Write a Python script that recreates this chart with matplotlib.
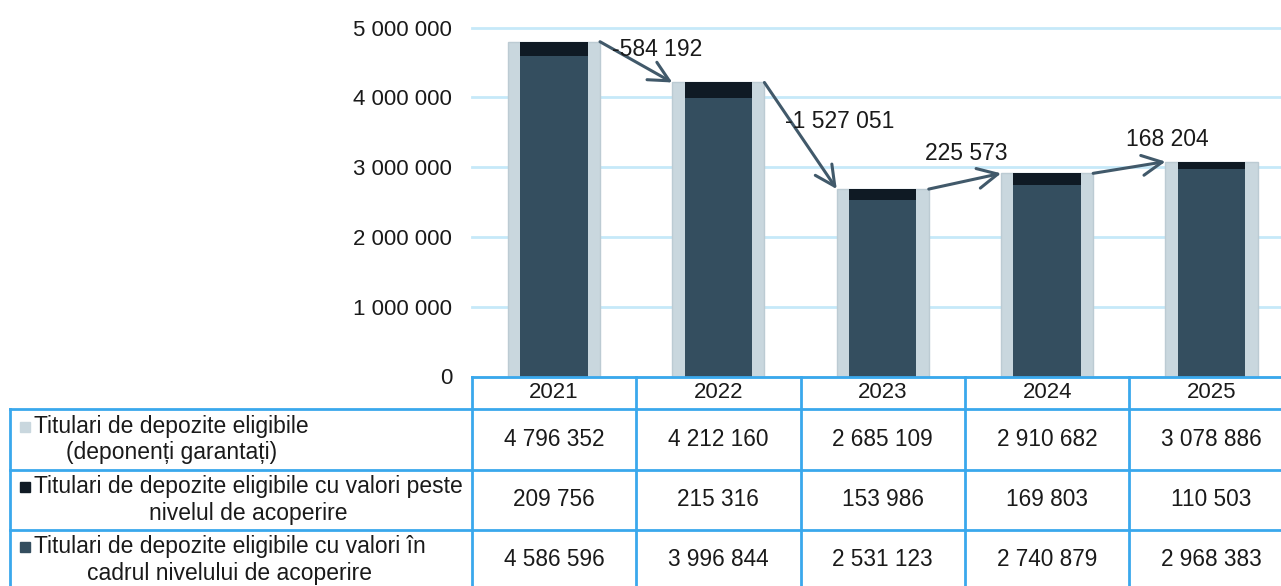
import matplotlib
matplotlib.use('Agg')
import matplotlib.pyplot as plt
from matplotlib.patches import Rectangle
from matplotlib.lines import Line2D
from matplotlib.transforms import blended_transform_factory
from matplotlib.ticker import FuncFormatter

# ---------------- data ----------------
years = ['2021', '2022', '2023', '2024', '2025']
total = [4796352, 4212160, 2685109, 2910682, 3078886]
above = [209756, 215316, 153986, 169803, 110503]
within = [4586596, 3996844, 2531123, 2740879, 2968383]
series_labels = [
    'Titulari de depozite eligibile\n(deponenți garantați)',
    'Titulari de depozite eligibile cu valori peste\nnivelul de acoperire',
    'Titulari de depozite eligibile cu valori în\ncadrul nivelului de acoperire',
]
yticks = [0, 1000000, 2000000, 3000000, 4000000, 5000000]

# ---------------- style ----------------
plt.rcParams['font.family'] = ['Liberation Sans', 'DejaVu Sans']
C_LIGHT = '#c9d7de'
C_LIGHT_EDGE = '#bccbd3'
C_SLATE = '#344e5f'
C_DARK = '#0f1a24'
C_GRID = '#c6e9f9'
C_TABLE = '#3aa8ec'
C_ARROW = '#41596a'
C_TEXT = '#1a1a1a'
FS = 16

W, H = 1281, 586
fig = plt.figure(figsize=(W / 100, H / 100), dpi=100)
fig.patch.set_facecolor('white')

def fx(px):
    return px / W

def fy(py):
    return 1 - py / H

ax_left, ax_right = 471.8, 1293.7
ax_top, ax_bottom = 27.5, 376.5
ax = fig.add_axes([fx(ax_left), fy(ax_bottom), (ax_right - ax_left) / W, (ax_bottom - ax_top) / H])
ax.set_xlim(-0.5, len(years) - 0.5)
ax.set_ylim(0, 5000000)

def fmt(v):
    return f'{int(v):,}'.replace(',', ' ')

x = list(range(len(years)))
ax.bar(x, total, width=0.56, color=C_LIGHT, edgecolor=C_LIGHT_EDGE, linewidth=1, zorder=2)
ax.bar(x, within, width=0.41, color=C_SLATE, zorder=3)
ax.bar(x, above, bottom=within, width=0.41, color=C_DARK, zorder=3)

ax.set_yticks(yticks)
ax.yaxis.set_major_formatter(FuncFormatter(lambda v, p: fmt(v)))
ax.tick_params(axis='y', length=0, pad=14, labelsize=FS, labelcolor=C_TEXT)
ax.set_xticks([])
for s in ax.spines.values():
    s.set_visible(False)
ax.set_axisbelow(True)
ax.yaxis.grid(True, color=C_GRID, lw=2, clip_on=False)

# arrows with changes
offsets = [(21, 13), (39, 14), (1, 28), (38, 28)]
for i in range(len(years) - 1):
    start = (x[i] + 0.28, total[i])
    end = (x[i + 1] - 0.28, total[i + 1])
    ax.annotate('', xy=end, xytext=start,
                arrowprops=dict(arrowstyle='->,head_length=0.9,head_width=0.45',
                                mutation_scale=16, lw=2.2, color=C_ARROW,
                                shrinkA=0, shrinkB=0), zorder=5)
    mid = ((start[0] + end[0]) / 2, (start[1] + end[1]) / 2)
    ax.annotate(fmt(total[i + 1] - total[i]), xy=mid, xytext=offsets[i],
                textcoords='offset pixels', ha='center', va='center',
                fontsize=FS + 0.5, color=C_TEXT, zorder=6)

# ---------------- data table ----------------
tr = blended_transform_factory(ax.transData, fig.transFigure)
row_lines = [409, 470, 530]
row_centers = [439.5, 500, 560]
year_row_center = 392.5

def fig_line(xs, ys, transform):
    fig.add_artist(Line2D(xs, ys, transform=transform, color=C_TABLE, lw=2))

# horizontal lines
fig_line([fx(ax_left), 1.0], [fy(ax_bottom), fy(ax_bottom)], fig.transFigure)
for r in row_lines:
    fig_line([fx(10), 1.0], [fy(r), fy(r)], fig.transFigure)
# vertical lines
fig_line([fx(10), fx(10)], [fy(409), 0], fig.transFigure)
for i in range(len(years) + 1):
    fig_line([i - 0.5, i - 0.5], [fy(ax_bottom), 0], tr)

for i, yr in enumerate(years):
    fig.text(i, fy(year_row_center), yr, transform=tr, ha='center', va='center',
             fontsize=FS, color=C_TEXT)

series_values = [total, above, within]
series_colors = [C_LIGHT, C_DARK, C_SLATE]
for r, (lab, vals, col) in enumerate(zip(series_labels, series_values, series_colors)):
    cy = row_centers[r]
    fig.add_artist(Rectangle((fx(20), fy(cy - 13 + 5)), 10 / W, 10 / H,
                             transform=fig.transFigure, color=col))
    fig.text(fx(34), fy(cy), lab, ha='left', va='center', multialignment='center',
             fontsize=FS + 0.5, color=C_TEXT, linespacing=1.2)
    for i, v in enumerate(vals):
        fig.text(i, fy(cy), fmt(v), transform=tr, ha='center', va='center',
                 fontsize=FS + 0.3, color=C_TEXT)

fig.savefig('out.png', dpi=100)
